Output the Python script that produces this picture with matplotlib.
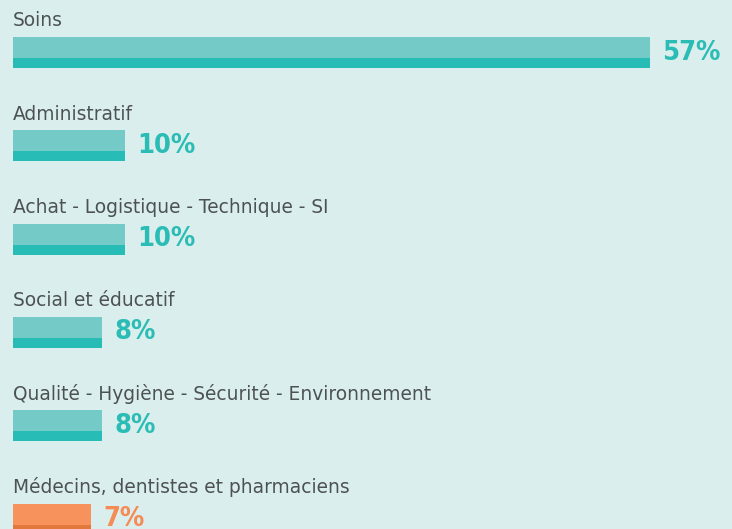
import matplotlib
matplotlib.use("Agg")
import matplotlib.pyplot as plt

categories = ["Soins", "Administratif", "Achat - Logistique - Technique - SI",
              "Social et éducatif", "Qualité - Hygiène - Sécurité - Environnement",
              "Médecins, dentistes et pharmaciens"]
values = [57, 10, 10, 8, 8, 7]
highlight = [False, False, False, False, False, True]

BG = "#daeeed"
LIGHT = "#74cac6"
DARK = "#27bcb5"
OLIGHT = "#f7925d"
ODARK = "#e2783c"
TXT = "#4c5153"
VTEAL = "#2bbdb5"
VORANGE = "#f58b55"

W, H = 732, 529
fig = plt.figure(figsize=(W / 100, H / 100), dpi=100, facecolor=BG)
ax = fig.add_axes([0, 0, 1, 1])
ax.set_facecolor(BG)

pxpct = 11.18
x0 = 13
ax.set_xlim(-x0 / pxpct, (W - x0) / pxpct)
step = 93.3
c0 = 52.5
ax.set_ylim((H - c0) / step, -c0 / step)
ax.axis("off")

bar_h = 31 / step
band_h = 10 / step
ys = list(range(len(categories)))
for y, v, cat, hl in zip(ys, values, categories, highlight):
    lc = OLIGHT if hl else LIGHT
    dc = ODARK if hl else DARK
    ax.barh(y, v, height=bar_h, left=0, color=lc, linewidth=0)
    ax.barh(y + bar_h / 2 - band_h / 2, v, height=band_h, left=0, color=dc, linewidth=0)
    ax.annotate(cat, xy=(0, y - bar_h / 2), xytext=(0, 10.5), textcoords="offset pixels",
                ha="left", va="baseline", fontsize=13.4, color=TXT,
                family=["DejaVu Sans"])
    ax.annotate(f"{v}%", xy=(v, y), xytext=(12, 0), textcoords="offset pixels",
                ha="left", va="center", fontsize=19.5, fontweight="bold",
                fontstretch="condensed", color=VORANGE if hl else VTEAL,
                family=["DejaVu Sans"])

fig.savefig("out.png", dpi=100, facecolor=BG)
